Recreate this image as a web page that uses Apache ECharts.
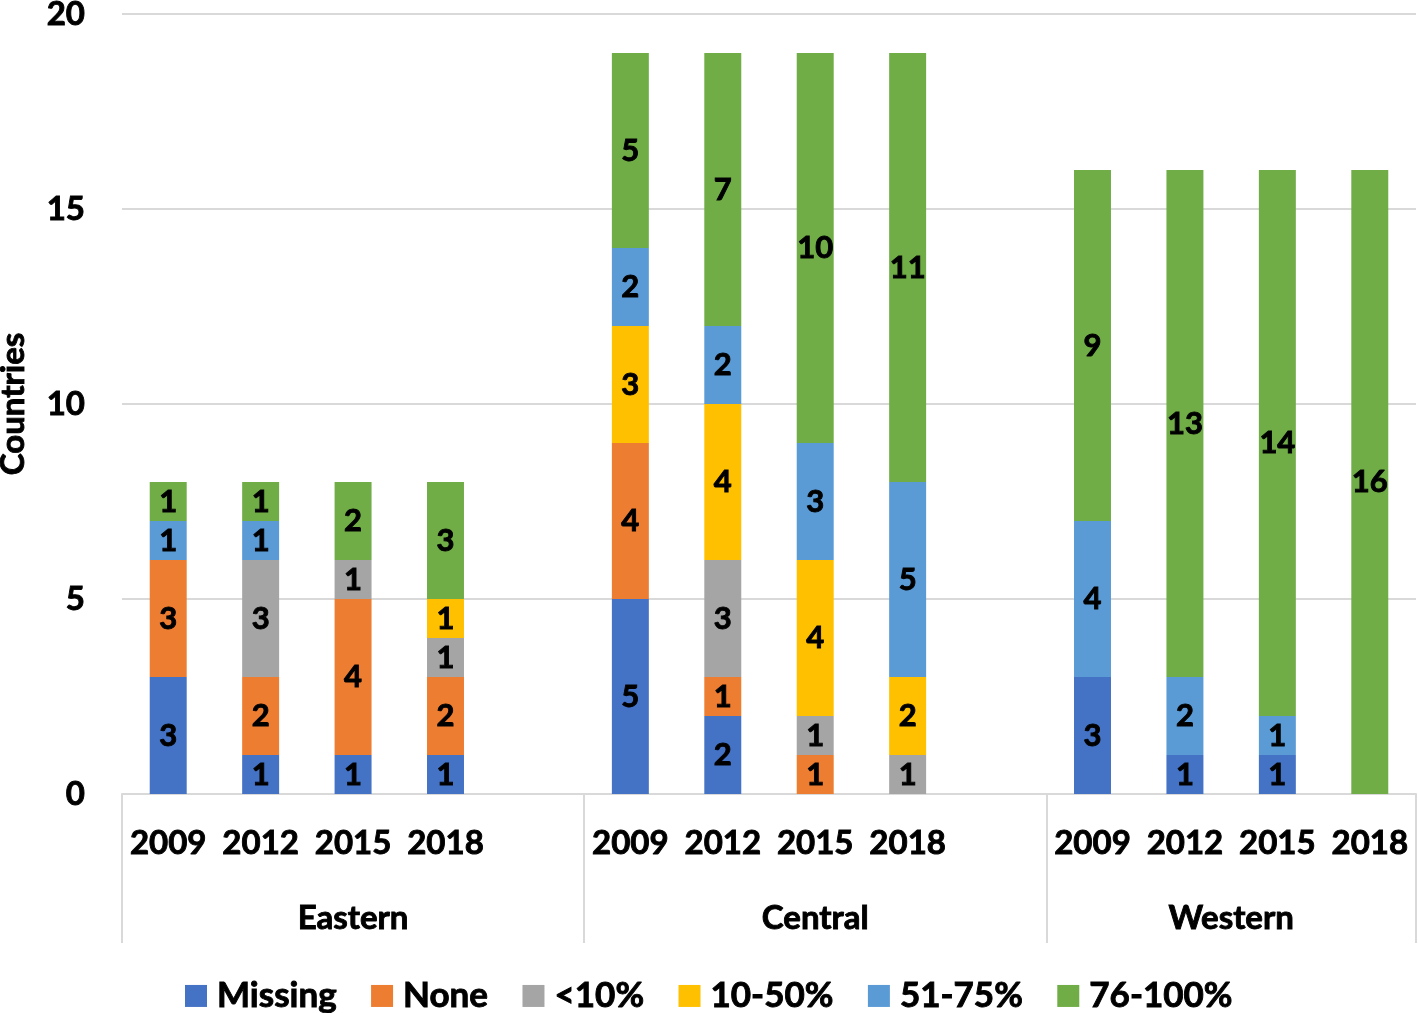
<!DOCTYPE html>
<html>
<head>
<meta charset="utf-8">
<script src="https://cdn.jsdelivr.net/npm/echarts@6/dist/echarts.min.js"></script>
<style>
  html, body { margin: 0; padding: 0; background: #fff; }
  #chart { width: 1418px; height: 1013px; }
</style>
</head>
<body>
<div id="chart"></div>
<script>
// ---- Data ----
const regions = ['Eastern', 'Central', 'Western'];
const years = ['2009', '2012', '2015', '2018'];
const seriesNames = ['Missing', 'None', '<10%', '10-50%', '51-75%', '76-100%'];
const colors = ['#4472C4', '#ED7D31', '#A5A5A5', '#FFC000', '#5B9BD5', '#70AD47'];

// values per region, in year order
const missing  = { Eastern: [3, 1, 1, 1], Central: [5, 2, 0, 0],  Western: [3, 1, 1, 0] };
const none     = { Eastern: [3, 2, 4, 2], Central: [4, 1, 1, 0],  Western: [0, 0, 0, 0] };
const lt10     = { Eastern: [0, 3, 1, 1], Central: [0, 3, 1, 1],  Western: [0, 0, 0, 0] };
const p10_50   = { Eastern: [0, 0, 0, 1], Central: [3, 4, 4, 2],  Western: [0, 0, 0, 0] };
const p51_75   = { Eastern: [1, 1, 0, 0], Central: [2, 2, 3, 5],  Western: [4, 2, 1, 0] };
const p76_100  = { Eastern: [1, 1, 2, 3], Central: [5, 7, 10, 11], Western: [9, 13, 14, 16] };

const yTicks = [0, 5, 10, 15, 20];

// ---- Build categories (blank slot after Eastern and Central) ----
const categories = [];
const groupBounds = [0];
const groupCenters = [];
regions.forEach((r, i) => {
  const start = categories.length;
  years.forEach(y => categories.push(y));
  if (i < regions.length - 1) categories.push('');
  groupBounds.push(categories.length);
  groupCenters.push((start + categories.length) / 2);
});

function flatten(obj) {
  const out = [];
  regions.forEach((r, i) => {
    obj[r].forEach(v => out.push(v === 0 ? null : v));
    if (i < regions.length - 1) out.push(null);
  });
  return out;
}
const seriesData = [missing, none, lt10, p10_50, p51_75, p76_100].map(flatten);

const FONT = 'Lato';
const heavy = { fontFamily: FONT, fontWeight: 'bold', color: '#000', textBorderColor: '#000', textBorderWidth: 0.9 };
const chart = echarts.init(document.getElementById('chart'), null, { renderer: 'canvas' });

chart.setOption({
  animation: false,
  color: colors,
  grid: { left: 122, right: 2, top: 14, bottom: 219, containLabel: false, outerBoundsMode: 'none' },
  legend: {
    top: 973,
    left: 'center',
    itemWidth: 22,
    itemHeight: 22,
    itemGap: 34,
    icon: 'rect',
    data: seriesNames,
    textStyle: Object.assign({}, heavy, { fontSize: 35, padding: [0, 0, 0, 5] })
  },
  xAxis: [
    {
      type: 'category',
      data: categories,
      position: 'bottom',
      axisLine: { show: true, lineStyle: { color: '#d9d9d9', width: 2 } },
      axisTick: { show: false },
      axisLabel: Object.assign({ interval: 0, margin: 33, fontSize: 33 }, heavy),
      splitLine: { show: false }
    },
    {
      type: 'value',
      min: 0,
      max: categories.length,
      position: 'bottom',
      axisLine: { show: false },
      axisTick: { show: true, customValues: groupBounds, length: 149, lineStyle: { color: '#d9d9d9', width: 2 } },
      axisLabel: Object.assign({
        customValues: groupCenters,
        margin: 108,
        fontSize: 33,
        formatter: v => {
          const idx = groupCenters.indexOf(v);
          return idx >= 0 ? regions[idx] : '';
        }
      }, heavy),
      splitLine: { show: false }
    }
  ],
  yAxis: {
    type: 'value',
    min: yTicks[0],
    max: yTicks[yTicks.length - 1],
    interval: 5,
    name: 'Countries',
    nameLocation: 'middle',
    nameGap: 92,
    nameRotate: 90,
    nameTextStyle: Object.assign({ fontSize: 33 }, heavy),
    axisLine: { show: false },
    axisTick: { show: false },
    axisLabel: Object.assign({ margin: 37, fontSize: 33 }, heavy),
    splitLine: { lineStyle: { color: '#d9d9d9', width: 2 } }
  },
  series: seriesNames.map((name, i) => ({
    name,
    type: 'bar',
    stack: 'total',
    xAxisIndex: 0,
    yAxisIndex: 0,
    barWidth: '40%',
    data: seriesData[i],
    label: Object.assign({
      show: true,
      position: 'inside',
      fontSize: 31
    }, heavy),
    itemStyle: { borderWidth: 0 }
  }))
});
</script>
</body>
</html>
